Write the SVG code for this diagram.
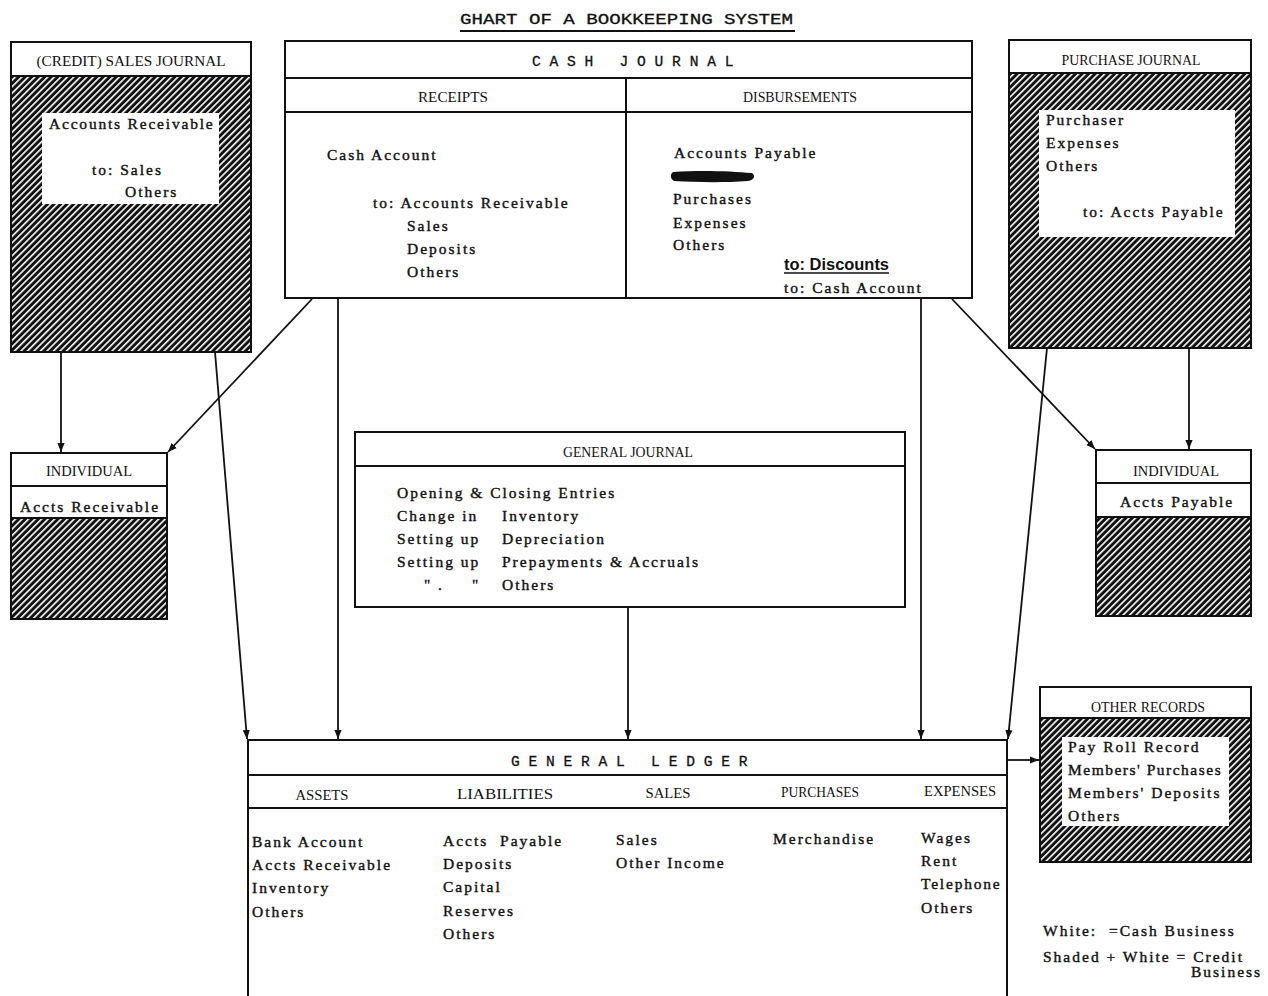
<svg xmlns="http://www.w3.org/2000/svg" width="1268" height="996" viewBox="0 0 1268 996">
<defs>
<pattern id="hatch" patternUnits="userSpaceOnUse" width="4.6" height="10" patternTransform="rotate(45)">
<rect x="0" y="0" width="4.6" height="10" fill="#111"/>
<rect x="0" y="0" width="1.6" height="10" fill="#fff"/>
</pattern>
<marker id="arr" viewBox="0 0 10 10" refX="10" refY="5" markerWidth="9" markerHeight="9" markerUnits="userSpaceOnUse" orient="auto">
<path d="M0,1 L10,5 L0,9 z" fill="#111"/>
</marker>
</defs>
<style>
text{white-space:pre}
.box{fill:#fff;stroke:#111;stroke-width:2}
.sh{fill:url(#hatch);stroke:#111;stroke-width:2}
.ln{stroke:#111;stroke-width:2;fill:none}
.t{font-family:"Liberation Serif",serif;font-size:15.5px;letter-spacing:2px;fill:#111;stroke:#111;stroke-width:0.4}
.m{font-family:"Liberation Mono",monospace;font-size:14.6px;fill:#111;stroke:#111;stroke-width:0.3}
.h{font-family:"Liberation Serif",serif;font-size:14px;fill:#111}
.c{stroke:#111;stroke-width:1.8;fill:none;marker-end:url(#arr)}
</style>
<rect width="1268" height="996" fill="#fff"/>

<g id="title">
<text class="m" x="460" y="24" font-size="17" textLength="333" lengthAdjust="spacingAndGlyphs">GHART OF A BOOKKEEPING SYSTEM</text>
<line x1="460" y1="31" x2="795" y2="31" stroke="#111" stroke-width="2"/>
</g>

<g id="sales-journal">
<rect class="sh" x="11" y="42" width="240" height="310"/>
<rect class="box" x="11" y="42" width="240" height="34"/>
<rect x="42" y="113" width="177" height="91" fill="#fff"/>
<text class="h" x="131" y="66" text-anchor="middle" textLength="189" lengthAdjust="spacingAndGlyphs">(CREDIT) SALES JOURNAL</text>
<text class="t" x="49" y="129" style="letter-spacing:1.8px">Accounts Receivable</text>
<text class="t" x="92" y="175">to: Sales</text>
<text class="t" x="125" y="197">Others</text>
</g>

<g id="cash-journal">
<rect class="box" x="285" y="41" width="687" height="257"/>
<line class="ln" x1="285" y1="78" x2="972" y2="78"/>
<line class="ln" x1="285" y1="112" x2="972" y2="112"/>
<line class="ln" x1="626" y1="78" x2="626" y2="298"/>
<text class="m" x="532" y="66">C A S H   J O U R N A L</text>
<text class="h" x="453" y="102" text-anchor="middle" textLength="70" lengthAdjust="spacingAndGlyphs">RECEIPTS</text>
<text class="h" x="800" y="102" text-anchor="middle" textLength="114" lengthAdjust="spacingAndGlyphs">DISBURSEMENTS</text>
<text class="t" x="327" y="160">Cash Account</text>
<text class="t" x="373" y="208">to: Accounts Receivable</text>
<text class="t" x="407" y="231">Sales</text>
<text class="t" x="407" y="254">Deposits</text>
<text class="t" x="407" y="277">Others</text>
<text class="t" x="674" y="158">Accounts Payable</text>
<path d="M673,172 C700,170 730,171 752,173 C756,176 754,180 748,181 C720,183 695,182 674,181 C670,179 670,174 673,172 z" fill="#111"/>
<text class="t" x="673" y="204">Purchases</text>
<text class="t" x="673" y="228">Expenses</text>
<text class="t" x="673" y="250">Others</text>
<text x="784" y="270" font-family="Liberation Sans Narrow,Liberation Sans,sans-serif" font-weight="bold" font-size="16" fill="#111" textLength="105" lengthAdjust="spacingAndGlyphs">to: Discounts</text>
<line x1="784" y1="273" x2="889" y2="273" stroke="#111" stroke-width="1.5"/>
<text class="t" x="784" y="293">to: Cash Account</text>
</g>

<g id="purchase-journal">
<rect class="sh" x="1009" y="40" width="242" height="308"/>
<rect class="box" x="1009" y="40" width="242" height="33"/>
<rect x="1039" y="110" width="196" height="127" fill="#fff"/>
<text class="h" x="1131" y="65" text-anchor="middle" textLength="139" lengthAdjust="spacingAndGlyphs">PURCHASE JOURNAL</text>
<text class="t" x="1046" y="125">Purchaser</text>
<text class="t" x="1046" y="148">Expenses</text>
<text class="t" x="1046" y="171">Others</text>
<text class="t" x="1083" y="217">to: Accts Payable</text>
</g>

<g id="individual-ar">
<rect class="sh" x="11" y="453" width="156" height="166"/>
<rect class="box" x="11" y="453" width="156" height="33"/>
<rect class="box" x="11" y="486" width="156" height="32"/>
<text class="h" x="89" y="476" text-anchor="middle" textLength="86" lengthAdjust="spacingAndGlyphs">INDIVIDUAL</text>
<text class="t" x="20" y="512">Accts Receivable</text>
</g>

<g id="individual-ap">
<rect class="sh" x="1096" y="450" width="155" height="166"/>
<rect class="box" x="1096" y="450" width="155" height="33"/>
<rect class="box" x="1096" y="483" width="155" height="34"/>
<text class="h" x="1176" y="476" text-anchor="middle" textLength="86" lengthAdjust="spacingAndGlyphs">INDIVIDUAL</text>
<text class="t" x="1120" y="507">Accts Payable</text>
</g>

<g id="general-journal">
<rect class="box" x="355" y="432" width="550" height="175"/>
<line class="ln" x1="355" y1="466" x2="905" y2="466"/>
<text class="h" x="628" y="457" text-anchor="middle" textLength="130" lengthAdjust="spacingAndGlyphs">GENERAL JOURNAL</text>
<text class="t" x="397" y="498">Opening &amp; Closing Entries</text>
<text class="t" x="397" y="521">Change in</text>
<text class="t" x="502" y="521">Inventory</text>
<text class="t" x="397" y="544">Setting up</text>
<text class="t" x="502" y="544">Depreciation</text>
<text class="t" x="397" y="567">Setting up</text>
<text class="t" x="502" y="567">Prepayments &amp; Accruals</text>
<text class="t" x="424" y="590">"</text>
<text class="t" x="438" y="590">.</text>
<text class="t" x="472" y="590">"</text>
<text class="t" x="502" y="590">Others</text>
</g>

<g id="general-ledger">
<rect class="box" x="248" y="740" width="759" height="270"/>
<line class="ln" x1="248" y1="775" x2="1007" y2="775"/>
<line class="ln" x1="248" y1="808" x2="1007" y2="808"/>
<text class="m" x="511" y="766">G E N E R A L   L E D G E R</text>
<text class="h" x="322" y="800" text-anchor="middle" textLength="53" lengthAdjust="spacingAndGlyphs">ASSETS</text>
<text class="h" x="505" y="799" text-anchor="middle" textLength="96" lengthAdjust="spacingAndGlyphs">LIABILITIES</text>
<text class="h" x="668" y="798" text-anchor="middle" textLength="45" lengthAdjust="spacingAndGlyphs">SALES</text>
<text class="h" x="820" y="797" text-anchor="middle" textLength="78" lengthAdjust="spacingAndGlyphs">PURCHASES</text>
<text class="h" x="960" y="796" text-anchor="middle" textLength="72" lengthAdjust="spacingAndGlyphs">EXPENSES</text>
<text class="t" x="252" y="847">Bank Account</text>
<text class="t" x="252" y="870">Accts Receivable</text>
<text class="t" x="252" y="893">Inventory</text>
<text class="t" x="252" y="917">Others</text>
<text class="t" x="443" y="846">Accts  Payable</text>
<text class="t" x="443" y="869">Deposits</text>
<text class="t" x="443" y="892">Capital</text>
<text class="t" x="443" y="916">Reserves</text>
<text class="t" x="443" y="939">Others</text>
<text class="t" x="616" y="845">Sales</text>
<text class="t" x="616" y="868">Other Income</text>
<text class="t" x="773" y="844">Merchandise</text>
<text class="t" x="921" y="843">Wages</text>
<text class="t" x="921" y="866">Rent</text>
<text class="t" x="921" y="889" style="letter-spacing:1.8px">Telephone</text>
<text class="t" x="921" y="913">Others</text>
</g>

<g id="other-records">
<rect class="sh" x="1040" y="687" width="211" height="175"/>
<rect class="box" x="1040" y="687" width="211" height="31"/>
<rect x="1062" y="737" width="167" height="89" fill="#fff"/>
<text class="h" x="1148" y="712" text-anchor="middle" textLength="114" lengthAdjust="spacingAndGlyphs">OTHER RECORDS</text>
<text class="t" x="1068" y="752">Pay Roll Record</text>
<text class="t" x="1068" y="775" style="letter-spacing:1.5px">Members' Purchases</text>
<text class="t" x="1068" y="798">Members' Deposits</text>
<text class="t" x="1068" y="821">Others</text>
</g>

<g id="legend">
<text class="t" x="1043" y="936">White:  =Cash Business</text>
<text class="t" x="1043" y="962">Shaded + White = Credit</text>
<text class="t" x="1191" y="977">Business</text>
</g>

<g id="connectors">
<line class="c" x1="61" y1="352" x2="61" y2="452"/>
<line class="c" x1="312" y1="299" x2="168" y2="452"/>
<line class="c" x1="215" y1="352" x2="247" y2="739"/>
<line class="c" x1="338" y1="299" x2="338" y2="739"/>
<line class="c" x1="628" y1="608" x2="628" y2="739"/>
<line class="c" x1="921" y1="299" x2="921" y2="739"/>
<line class="c" x1="952" y1="299" x2="1095" y2="449"/>
<line class="c" x1="1189" y1="348" x2="1189" y2="449"/>
<line class="c" x1="1047" y1="348" x2="1008" y2="739"/>
<line class="c" x1="1008" y1="760" x2="1039" y2="760"/>
</g>
</svg>
